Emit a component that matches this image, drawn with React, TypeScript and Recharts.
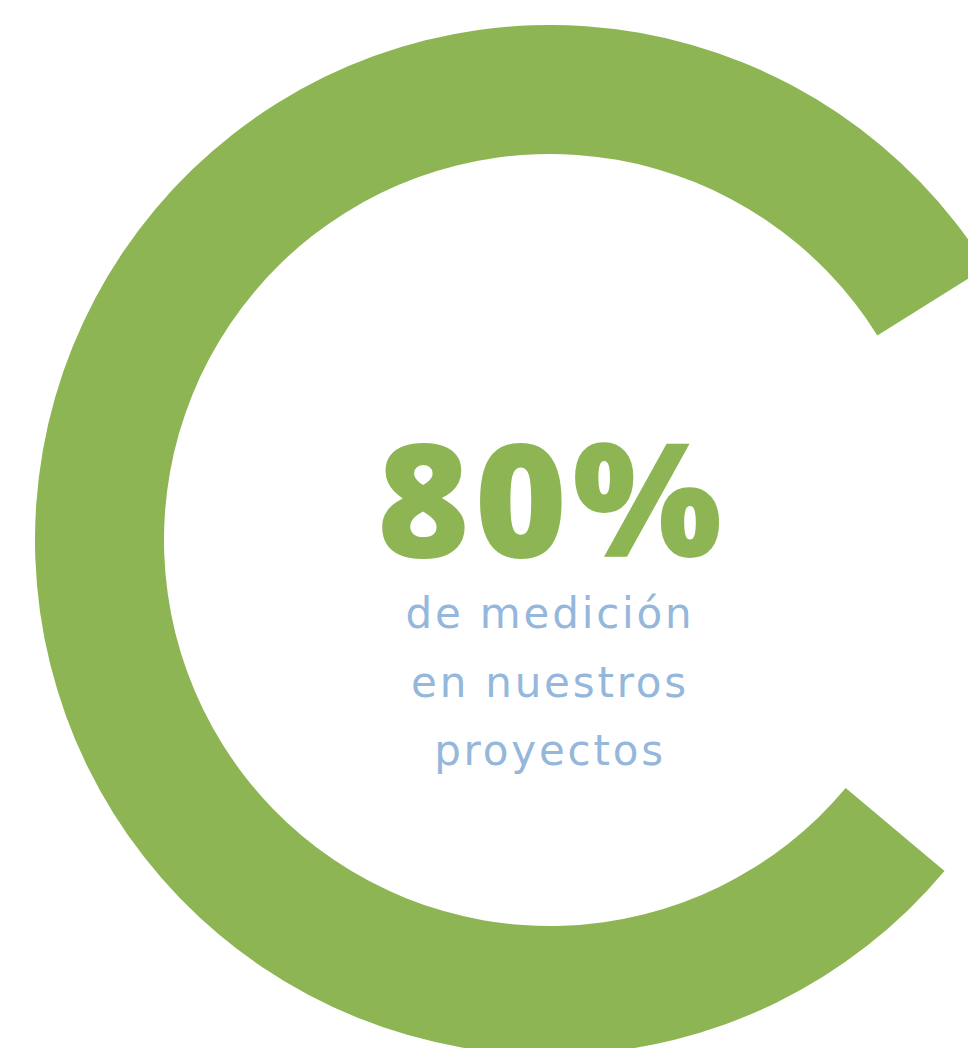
import React from 'react';
import { PieChart, Pie, Cell } from 'recharts';

const segments = ['medido', 'resto'];
const values = [80, 20];
const colors = ['#8DB553', 'rgba(0,0,0,0)'];
const headline = '80%';
const subtitleLines = ['de medición', 'en nuestros', 'proyectos'];

const data = segments.map((name, i) => ({ name, value: values[i] }));

export default function App() {
  return (
    <div style={{ position: 'absolute', left: 0, top: 0, width: 968, height: 1048, background: '#ffffff' }}>
      <PieChart width={968} height={1048} margin={{ top: 0, right: 0, bottom: 0, left: 0 }}>
        <Pie
          data={data}
          dataKey="value"
          nameKey="name"
          cx={550}
          cy={540}
          innerRadius={386}
          outerRadius={515}
          startAngle={32}
          endAngle={392}
          stroke="none"
          isAnimationActive={false}
        >
          {data.map((d, i) => (
            <Cell key={d.name} fill={colors[i]} />
          ))}
        </Pie>
        <text
          x={552}
          y={557}
          textAnchor="middle"
          fill="#8DB553"
          style={{ fontFamily: '"Open Sans", sans-serif', fontWeight: 800, fontSize: 158, letterSpacing: 5 }}
        >
          {headline}
        </text>
        {subtitleLines.map((line, i) => (
          <text
            key={line}
            x={550}
            y={628 + i * 68.7}
            textAnchor="middle"
            fill="#94B7DB"
            style={{ fontFamily: '"DejaVu Sans", sans-serif', fontWeight: 400, fontSize: 42, letterSpacing: 2.8 }}
          >
            {line}
          </text>
        ))}
      </PieChart>
    </div>
  );
}
